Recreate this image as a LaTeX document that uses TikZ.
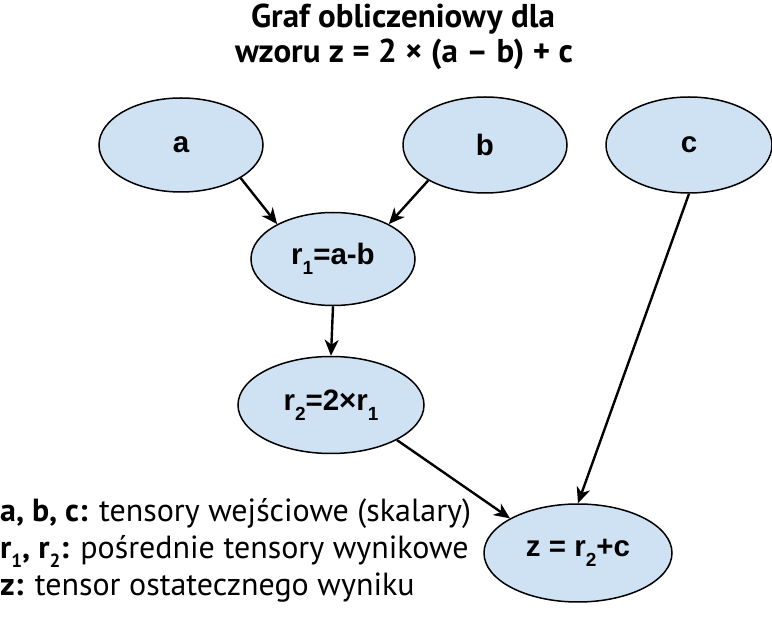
\documentclass[tikz,border=0pt]{standalone}
\usepackage{fontspec}
\setmainfont{PT Sans}
\newfontfamily\nodefont{Liberation Sans}
\usetikzlibrary{shapes.geometric,arrows.meta}
\definecolor{nodeblue}{HTML}{CFE2F3}
\newcommand\nsub[1]{\raisebox{-0.32em}{\fontsize{19}{19}\selectfont #1}}
\newcommand\lsub[1]{\raisebox{-0.28em}{\fontsize{19}{19}\selectfont #1}}
\begin{document}
\begin{tikzpicture}[x=1pt,y=-1pt,
  gnode/.style={ellipse,draw=black,line width=1.5pt,fill=nodeblue,inner sep=0pt,
    font=\nodefont\bfseries\fontsize{29.5}{29.5}\selectfont},
  conn/.style={line width=2.4pt,-{Stealth[length=16pt,width=14pt,inset=5pt]}},
  titletext/.style={anchor=base,inner sep=0pt,font=\bfseries\fontsize{33}{33}\selectfont},
  legendtext/.style={anchor=base west,inner sep=0pt,font=\fontsize{32}{32}\selectfont}]
\useasboundingbox (0,0) rectangle (772,617);
% title
\node[titletext] (t1) at (403,28) {Graf obliczeniowy dla};
\node[titletext] (t2) at (404,63) {wzoru z = 2 × (a – b) + c};
% nodes
\node[gnode,minimum width=164pt,minimum height=94pt] (a) at (181,145) {a};
\node[gnode,minimum width=164pt,minimum height=96pt] (b) at (485,145) {b};
\node[gnode,minimum width=166pt,minimum height=96pt] (c) at (689,145) {c};
\node[gnode,minimum width=164pt,minimum height=93pt] (r1) at (333,259) {r\nsub{1}=a-b};
\node[gnode,minimum width=186pt,minimum height=97pt] (r2) at (331,405) {r\nsub{2}=2×r\nsub{1}};
\node[gnode,minimum width=188pt,minimum height=98pt] (z) at (578,553) {z = r\nsub{2}+c};
% connectors
\draw[conn] (a.-29) -- (r1.148);
\draw[conn] (b.-148) -- (r1.32);
\draw[conn] (r1.south) -- (r2.north);
\draw[conn] (r2.-28) -- (z.153);
\draw[conn] (c.south) -- (z.north);
% legend
\node[legendtext] (l1) at (0,522) {\textbf{a, b, c:} tensory wejściowe (skalary)};
\node[legendtext] (l2) at (0,559) {\textbf{r\lsub{1}, r\lsub{2}:} pośrednie tensory wynikowe};
\node[legendtext] (l3) at (0,596) {\textbf{z:} tensor ostatecznego wyniku};
\end{tikzpicture}
\end{document}
